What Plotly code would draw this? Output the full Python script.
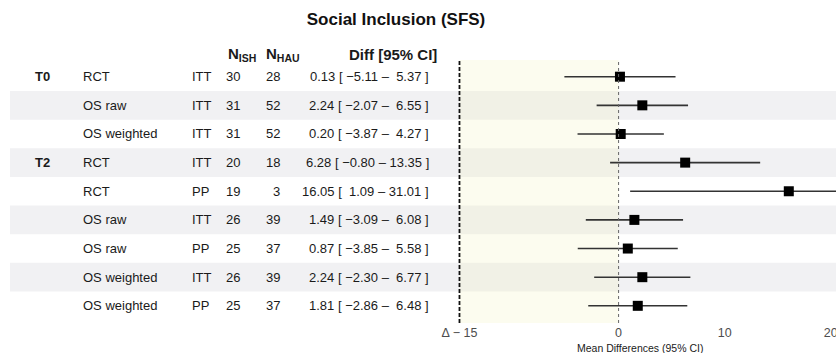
import plotly.graph_objects as go

# Table / forest plot data (top row first)
timepoints = ["T0", "", "", "T2", "", "", "", "", ""]
designs = ["RCT", "OS raw", "OS weighted", "RCT", "RCT", "OS raw", "OS raw", "OS weighted", "OS weighted"]
analyses = ["ITT", "ITT", "ITT", "ITT", "PP", "ITT", "PP", "ITT", "PP"]
n_ish = [30, 31, 31, 20, 19, 26, 25, 26, 25]
n_hau = [28, 52, 52, 18, 3, 39, 37, 39, 37]
diff = [0.13, 2.24, 0.20, 6.28, 16.05, 1.49, 0.87, 2.24, 1.81]
ci_low = [-5.11, -2.07, -3.87, -0.80, 1.09, -3.09, -3.85, -2.30, -2.86]
ci_high = [5.37, 6.55, 4.27, 13.35, 31.01, 6.08, 5.58, 6.77, 6.48]

x_ticks = [-15, 0, 10, 20]
x_tick_labels = ["Δ − 15", "0", "10", "20"]
margin_delta = -15

W, H = 836, 353
FONT = "Arial, Liberation Sans, Helvetica, sans-serif"
TXT = "#1a1a1a"

rows = list(range(1, len(diff) + 1))
plot_left_px = 451
top_px, bottom_px = 60, 323
plot_h = bottom_px - top_px


def px(x):
    return x / W


def py(y):
    # pixel row from top -> paper y
    return 1 + (top_px - y) / plot_h


fig = go.Figure()

fig.add_trace(go.Scatter(
    x=diff,
    y=rows,
    mode="markers",
    marker=dict(symbol="square", size=10, color="black"),
    error_x=dict(
        type="data",
        symmetric=False,
        array=[h - d for h, d in zip(ci_high, diff)],
        arrayminus=[d - l for d, l in zip(diff, ci_low)],
        thickness=1.6,
        width=0,
        color="#333333",
    ),
    hoverinfo="skip",
    showlegend=False,
    cliponaxis=True,
))

shapes = []
# alternating row stripes across the whole table
for r in rows:
    if r % 2 == 0:
        shapes.append(dict(
            type="rect", xref="paper", yref="y",
            x0=px(10), x1=1, y0=r - 0.5, y1=r + 0.5,
            fillcolor="#f1f1f3", line=dict(width=0), layer="below",
        ))
# non-inferiority region between the margin and zero
shapes.append(dict(
    type="rect", xref="x", yref="paper",
    x0=margin_delta, x1=0, y0=0, y1=1,
    fillcolor="rgba(245,245,190,0.25)", line=dict(width=0), layer="below",
))
# margin line
shapes.append(dict(
    type="line", xref="x", yref="paper",
    x0=margin_delta, x1=margin_delta, y0=0, y1=1,
    line=dict(color="#111111", width=1.8, dash="4px,2px"),
))
# zero line
shapes.append(dict(
    type="line", xref="x", yref="paper",
    x0=0, x1=0, y0=0, y1=1,
    line=dict(color="#666666", width=1, dash="dot"),
))

annotations = []


def text(x, y, s, anchor="left", size=13, bold=False, color=TXT, yref="y"):
    annotations.append(dict(
        xref="paper", yref=yref, x=px(x), y=y,
        text=f"<b>{s}</b>" if bold else s,
        showarrow=False, xanchor=anchor, yanchor="middle",
        font=dict(family=FONT, size=size, color=color),
    ))


head_y = py(55)
text(226, head_y, "N<sub>ISH</sub>", size=15, bold=True, yref="paper")
text(264, head_y, "N<sub>HAU</sub>", size=15, bold=True, yref="paper")
text(439, head_y, "Diff [95% CI]", anchor="right", size=15, bold=True, yref="paper")

for r, tp, de, an, a, b, d, lo, hi in zip(rows, timepoints, designs, analyses,
                                         n_ish, n_hau, diff, ci_low, ci_high):
    if tp:
        text(33, r, tp, bold=True)
    text(81, r, de)
    text(190, r, an)
    text(242, r, str(a), anchor="right")
    text(282, r, str(b), anchor="right")
    s = f"{d:.2f} [ {lo:5.2f} – {hi:5.2f} ]".replace("-", "−").replace(" ", "\u00a0")
    text(431, r, s, anchor="right")

# x-axis title
annotations.append(dict(
    xref="paper", yref="paper", x=px(640), y=py(348),
    text="Mean Differences (95% CI)", showarrow=False,
    xanchor="center", yanchor="middle",
    font=dict(family=FONT, size=10.5, color=TXT),
))

fig.update_layout(
    template="none",
    width=W, height=H,
    margin=dict(l=0, r=0, t=top_px, b=H - bottom_px, pad=0, autoexpand=False),
    paper_bgcolor="white", plot_bgcolor="rgba(0,0,0,0)",
    title=dict(
        text="<b>Social Inclusion (SFS)</b>",
        x=px(396), xanchor="center", y=1 - 19 / H, yanchor="middle",
        font=dict(family=FONT, size=17, color="#111111"),
    ),
    xaxis=dict(
        domain=[px(plot_left_px), 1],
        range=[-15.8, 20.5],
        tickvals=x_ticks, ticktext=x_tick_labels,
        showgrid=False, zeroline=False, showline=False, ticks="",
        tickfont=dict(family=FONT, size=12.5, color="#4d4d4d"),
        ticklabeloverflow="allow",
        automargin=False,
        fixedrange=True,
    ),
    yaxis=dict(
        range=[9.6, 0.417],
        showticklabels=False, showgrid=False, zeroline=False, showline=False,
        automargin=False,
        fixedrange=True,
    ),
    shapes=shapes,
    annotations=annotations,
)

fig.write_html("out.html")
